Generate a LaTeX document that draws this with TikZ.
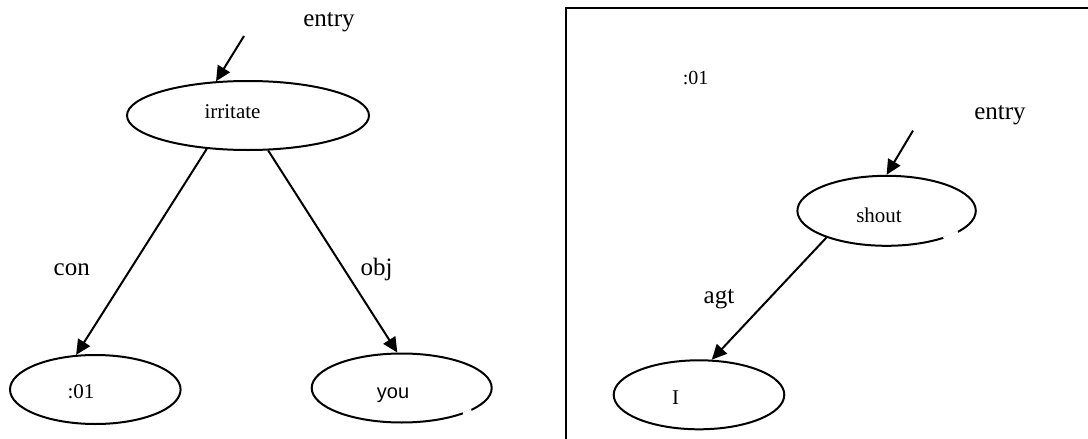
\documentclass[tikz,border=0pt]{standalone}
\usepackage{fontspec}
\setmainfont{Liberation Serif}
\newfontfamily\arialfont{Liberation Sans}
\usetikzlibrary{shapes.geometric,arrows.meta}

\begin{document}
\begin{tikzpicture}[
    x=0.5pt, y=-0.5pt,
    word/.style={draw, ellipse, line width=1pt, inner sep=0pt, minimum width=#1,
      minimum height=34.5pt},
    tag/.style={anchor=base, font=\fontsize{10.5}{12}\selectfont},
    rel/.style={anchor=base, font=\fontsize{12.5}{15}\selectfont},
    arrow/.style={-{Triangle[length=7.5pt,width=7pt]}, line width=1pt},
    gap/.style={draw=white, line width=2pt}
]
  \useasboundingbox (0,0) rectangle (1088,439);

  % First graph: irritate with its two arcs
  \node[word=121pt] (irritate) at (248,115.5) {};
  \node[word=85.3pt] (con01) at (95.3,389.5) {};
  \node[word=90pt] (you) at (401.7,388) {};
  \node[tag] (irritateText) at (232.5,118.3) {irritate};
  \node[tag] (con01Text) at (81,398) {:01};
  \node[tag, font=\arialfont\fontsize{10}{12}\selectfont] (youText) at (393,398.3) {you};
  \draw[gap] (you.337) -- (you.342);

  \coordinate (entryA) at (244,36);
  \node[rel] (entryAText) at (329,26) {entry};
  \draw[arrow] (entryA) -- (irritate.133);

  \draw[arrow] (irritate.219) -- (con01.119);
  \draw[arrow] (irritate.300) -- (you.97);
  \node[rel] (con) at (71.7,275) {con};
  \node[rel] (obj) at (376.7,275) {obj};

  % Second graph, boxed, for the node :01
  \draw[line width=1pt] (566,460) -- (566,8.4) -- (1110,8.4);
  \node[tag, font=\fontsize{10}{12}\selectfont] (box01) at (695.6,84) {:01};

  \node[word=89.2pt, minimum height=35pt] (shout) at (886.6,210.8) {};
  \node[word=85.3pt] (I) at (699,394.8) {};
  \node[tag] (shoutText) at (879,222) {shout};
  \node[tag] (IText) at (675.5,404) {I};
  \draw[gap] (shout.334) -- (shout.343);

  \coordinate (entryB) at (913,130.6);
  \node[rel] (entryBText) at (1000,119.5) {entry};
  \draw[arrow] (entryB) -- (shout.north);

  \draw[arrow] (shout.204) -- (I.70);
  \node[rel] (agt) at (719,303) {agt};
\end{tikzpicture}
\end{document}
